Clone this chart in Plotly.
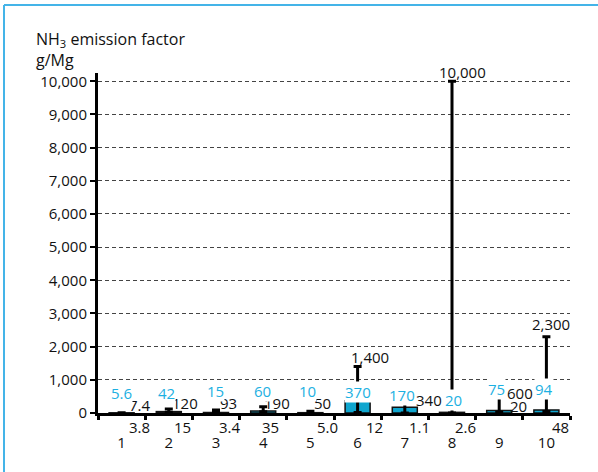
import plotly.graph_objects as go

# NH3 emission factors (g/Mg) per process: mean value with lower / upper bounds
categories = ["1", "2", "3", "4", "5", "6", "7", "8", "9", "10"]
values = [5.6, 42, 15, 60, 10, 370, 170, 20, 75, 94]
upper = [7.4, 120, 93, 190, 50, 1400, 340, 10000, 600, 2300]
lower = [3.8, 15, 3.4, 35, 5.0, 12, 1.1, 2.6, 20, 48]

value_text = ["5.6", "42", "15", "60", "10", "370", "170", "20", "75", "94"]
upper_text = ["7.4", "120", "93", "190", "50", "1,400", "340", "10,000", "600", "2,300"]
lower_text = ["3.8", "15", "3.4", "35", "5.0", "12", "1.1", "2.6", "20", "48"]

# label placement (pixel offsets); "top" = relative to the upper bound, "base" = relative to 0
value_offsets = [(0, 20), (-2, 20), (-1, 22), (-1, 22), (-3, 22), (0, 21), (-3, 18), (1, 13), (-3, 24), (-2, 24)]
upper_offsets = [("base", 18, 8), ("base", 16, 10), ("base", 12, 10), ("base", 14, 10), ("base", 12, 10),
                 ("top", 12, 10), ("top", 24, 2), ("top", 10, 9), ("top", 21, 0), ("top", 5, 13)]
lower_offsets = [(18, -14), (14, -14), (14, -14), (7, -14), (17, -14), (17, -14), (15, -14), (13, -14),
                 (19, 7), (14, -14)]

BLUE_BAR = "#0fa6cf"
BLUE_TXT = "#1cb0e2"
FONT = "Open Sans"

fig = go.Figure()
fig.add_trace(go.Bar(
    x=categories,
    y=values,
    width=0.53,
    marker=dict(color=BLUE_BAR, line=dict(color="#111111", width=1.5)),
    error_y=dict(
        type="data",
        symmetric=False,
        array=[u - v for u, v in zip(upper, values)],
        arrayminus=[v - lo for v, lo in zip(values, lower)],
        color="#000000",
        thickness=3,
        width=4,
    ),
    showlegend=False,
    hoverinfo="skip",
))

annotations = []
for i, cat in enumerate(categories):
    # on a category axis a numeric x is the category index
    mode, dx, dy = upper_offsets[i]
    annotations.append(dict(x=i, y=upper[i] if mode == "top" else 0, xref="x", yref="y",
                            text=upper_text[i], showarrow=False,
                            xanchor="center", yanchor="middle", xshift=dx, yshift=dy,
                            font=dict(family=FONT, size=15, color="#111111")))
    dx, dy = lower_offsets[i]
    annotations.append(dict(x=i, y=0, xref="x", yref="y", text=lower_text[i], showarrow=False,
                            xanchor="center", yanchor="middle", xshift=dx, yshift=dy,
                            font=dict(family=FONT, size=15, color="#111111")))
for i, cat in enumerate(categories):
    # mean-value labels sit on a white background over the error bars
    dx, dy = value_offsets[i]
    annotations.append(dict(x=i, y=0, xref="x", yref="y", text=value_text[i], showarrow=False,
                            xanchor="center", yanchor="middle", xshift=dx, yshift=dy,
                            bgcolor="white", borderpad=0,
                            font=dict(family=FONT, size=15, color=BLUE_TXT)))

fig.update_layout(
    width=598,
    height=472,
    margin=dict(l=98, r=28, t=73, b=59),
    paper_bgcolor="white",
    plot_bgcolor="white",
    font=dict(family=FONT, size=15, color="#111111"),
    title=dict(
        text="NH<sub>3</sub> emission factor<br>g/Mg",
        x=36 / 598, xref="container", xanchor="left",
        y=1 - 45 / 472, yref="container", yanchor="top",
        font=dict(family=FONT, size=16, color="#111111"),
    ),
    annotations=annotations,
    shapes=[
        dict(type="line", xref="paper", yref="paper", x0=(4 - 98) / 472, x1=(600 - 98) / 472,
             y0=1 + (73 - 5) / 340, y1=1 + (73 - 5) / 340, line=dict(color="#44b4e8", width=2)),
        dict(type="line", xref="paper", yref="paper", x0=(4 - 98) / 472, x1=(4 - 98) / 472,
             y0=1 + (73 - 5) / 340, y1=-(472 - 413 + 5) / 340, line=dict(color="#44b4e8", width=2)),
    ],
)

fig.update_xaxes(
    type="category",
    categoryorder="array",
    categoryarray=categories,
    range=[-0.5, 9.5],
    tickson="boundaries",
    ticks="outside",
    ticklen=4,
    tickwidth=3,
    tickcolor="#000000",
    showline=True,
    linecolor="#000000",
    linewidth=3,
    showgrid=False,
    ticklabelstandoff=14,
    tickfont=dict(family=FONT, size=15, color="#111111"),
)

fig.update_yaxes(
    range=[0, 10250],
    tickvals=list(range(0, 10001, 1000)),
    tickformat=",d",
    ticks="outside",
    ticklen=5,
    tickwidth=2,
    tickcolor="#000000",
    showline=True,
    linecolor="#000000",
    linewidth=3,
    showgrid=True,
    gridcolor="#444444",
    gridwidth=1,
    griddash="4px,3px",
    zeroline=False,
    tickfont=dict(family=FONT, size=15, color="#111111"),
)

fig.write_html("out.html")
